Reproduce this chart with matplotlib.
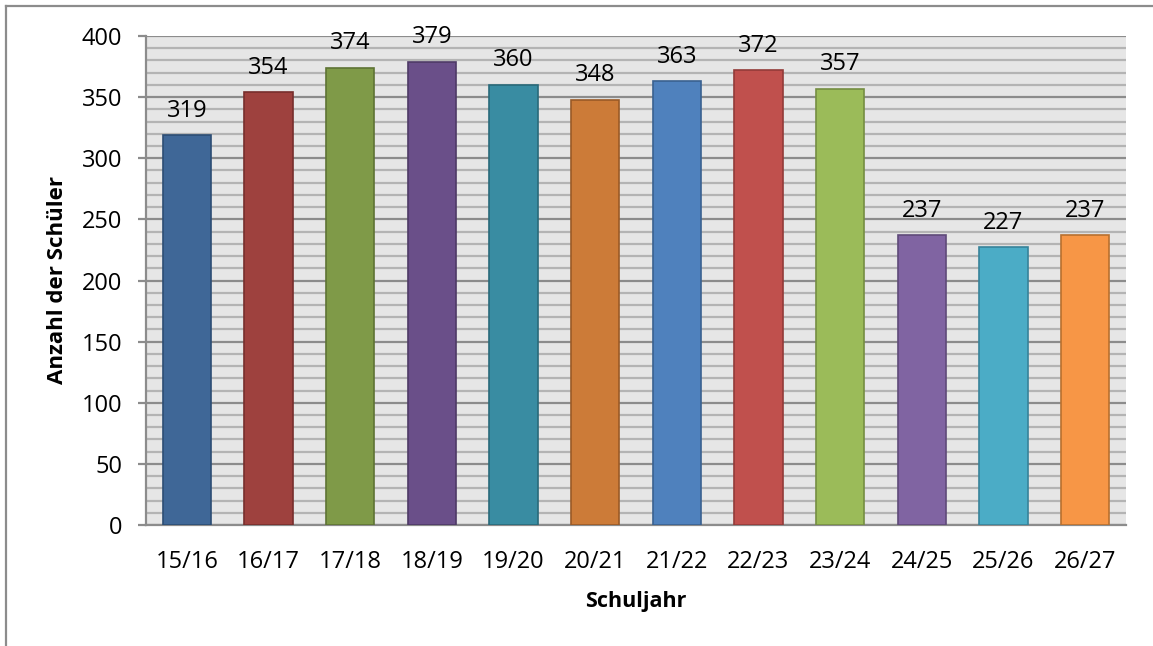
import matplotlib
matplotlib.use("Agg")
import matplotlib.pyplot as plt
from matplotlib.ticker import MultipleLocator
from matplotlib.lines import Line2D

plt.rcParams['font.family'] = ['Open Sans', 'DejaVu Sans']

# Schülerzahlen je Schuljahr
schuljahre = ["15/16", "16/17", "17/18", "18/19", "19/20", "20/21",
              "21/22", "22/23", "23/24", "24/25", "25/26", "26/27"]
schueler = [319, 354, 374, 379, 360, 348, 363, 372, 357, 237, 227, 237]

fill_colors = ["#3F6797", "#9E413E", "#7F9A48", "#6A4F89", "#398CA2", "#CC7B38",
               "#4F81BD", "#C0504D", "#9BBB59", "#8064A2", "#4BACC6", "#F79646"]
edge_colors = ["#2C4D74", "#772E2C", "#5E7334", "#4E3A66", "#296A7A", "#9A5A26",
               "#3A6190", "#933B39", "#758E42", "#5F4A79", "#37839A", "#B8702F"]

fig = plt.figure(figsize=(11.53, 6.46), dpi=100)
ax = fig.add_axes([146/1153, 1 - 525/646, (1126 - 146)/1153, (525 - 36)/646])

x = range(len(schuljahre))
bars = ax.bar(x, schueler, width=0.59, color=fill_colors, edgecolor=edge_colors,
              linewidth=1.2, zorder=3)

for xi, v in zip(x, schueler):
    ax.annotate(str(v), (xi, v), xytext=(0, 9), textcoords="offset points",
                ha="center", va="bottom", fontsize=17, color="black")

ax.set_xlim(-0.5, len(schuljahre) - 0.5)
ax.set_ylim(0, 400)
ax.set_facecolor("#E6E6E6")

ax.yaxis.set_major_locator(MultipleLocator(50))
ax.yaxis.set_minor_locator(MultipleLocator(10))
ax.grid(which="minor", axis="y", color="#B4B4B4", linewidth=1.6, zorder=1)
ax.grid(which="major", axis="y", color="#8C8C8C", linewidth=1.6, zorder=1)

for side in ["top", "right"]:
    ax.spines[side].set_visible(False)
ax.spines["left"].set_color("#8C8C8C")
ax.spines["bottom"].set_color("#8C8C8C")
ax.spines["left"].set_linewidth(1.6)
ax.spines["bottom"].set_linewidth(1.6)

ax.set_xticks(list(x))
ax.set_xticklabels(schuljahre)
ax.tick_params(axis="x", length=0, pad=18, labelsize=17)
ax.tick_params(axis="y", which="major", length=6, width=1.6, color="#8C8C8C",
               labelsize=17, pad=11)
ax.tick_params(axis="y", which="minor", length=0)

ax.set_xlabel("Schuljahr", fontsize=15.5, fontweight="bold", va="center")
ax.set_ylabel("Anzahl der Schüler", fontsize=16, fontweight="bold", va="center")
ax.xaxis.set_label_coords(0.5, (525 - 602) / 489)
ax.yaxis.set_label_coords((57 - 146) / 980, 0.5)

# Rahmen des Diagrammbereichs (oben und links)
fig.add_artist(Line2D([6/1153, 6/1153], [0, 1 - 6/646], transform=fig.transFigure,
                      color="#8C8C8C", linewidth=1.6))
fig.add_artist(Line2D([6/1153, 1], [1 - 6/646, 1 - 6/646], transform=fig.transFigure,
                      color="#8C8C8C", linewidth=1.6))

fig.savefig("out.png", dpi=100)
